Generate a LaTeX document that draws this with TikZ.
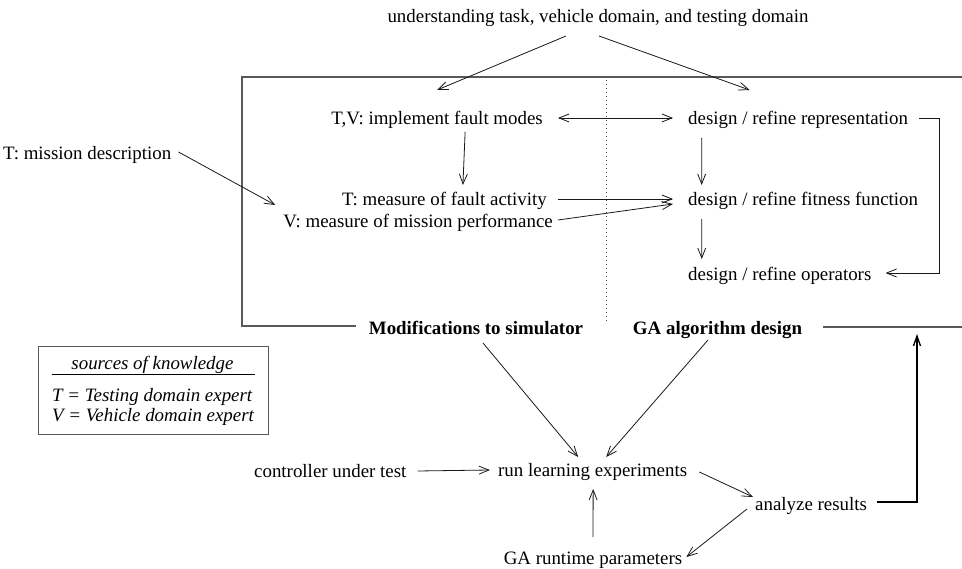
\documentclass[tikz,border=0pt]{standalone}
\usepackage{fontspec}
\setmainfont{Liberation Serif}
\usetikzlibrary{arrows.meta,calc}
\begin{document}
\begin{tikzpicture}[x=1pt,y=-1pt,
  every node/.style={inner sep=0pt, font=\fontsize{18.9}{22}\selectfont,
    execute at begin node={\lower4pt\hbox\bgroup}, execute at end node={\egroup}},
  boldlbl/.style={font=\fontsize{18.9}{22}\selectfont\bfseries},
  itlbl/.style={font=\fontsize{18.9}{22}\selectfont\itshape},
  conn/.style={draw=black!90, line width=0.8pt, -{Straight Barb[length=10pt,width=8pt]}},
  twoway/.style={draw=black!90, line width=0.8pt, {Straight Barb[length=10pt,width=8pt]}-{Straight Barb[length=10pt,width=8pt]}},
  feedback/.style={draw=black, line width=1.3pt, -{Straight Barb[length=10pt,width=7pt]}},
  framestroke/.style={draw=black!65, line width=1.2pt},
  divider/.style={draw=black!70, line width=0.9pt, dash pattern=on 1pt off 3pt}]
\useasboundingbox (0,0) rectangle (962,569);

% labels
\node (top) at (598,16) [anchor=mid] {understanding task, vehicle domain, and testing domain};
\node (tvfault) at (543,118) [anchor=mid east] {T,V: implement fault modes};
\node (rep) at (688,118) [anchor=mid west] {design / refine representation};
\node (tfault) at (547,199) [anchor=mid east] {T: measure of fault activity};
\node (vmission) at (553,221) [anchor=mid east] {V: measure of mission performance};
\node (fit) at (688,199) [anchor=mid west] {design / refine fitness function};
\node (ops) at (688,274) [anchor=mid west] {design / refine operators};
\node (mission) at (3,153) [anchor=mid west] {T: mission description};
\node (mods) at (476,328) [anchor=mid, boldlbl] {Modifications to simulator};
\node (gadesign) at (717.5,328) [anchor=mid, boldlbl] {GA algorithm design};
\node (controller) at (254,471) [anchor=mid west] {controller under test};
\node (run) at (498,470) [anchor=mid west] {run learning experiments};
\node (analyze) at (755,504) [anchor=mid west] {analyze results};
\node (params) at (593,558) [anchor=mid] {GA runtime parameters};

% frame around the design stage
\draw[framestroke] ($(mods.mid west)+(-13,-2)$) -- (242,326) -- (242,77) -- (970,77);
\draw[framestroke] ($(gadesign.mid east)+(21,-1)$) -- (970,327);
\draw[divider] (606,80) -- (606,323);

% legend
\draw[framestroke, line width=1pt] (38,347) rectangle (268,435);
\node (legtitle) at (152.5,363) [anchor=mid, itlbl] {sources of knowledge};
\draw[black, line width=0.9pt] (52,374) -- (255,374);
\node (legT) at (52,395) [anchor=mid west, itlbl] {T = Testing domain expert};
\node (legV) at (52,415) [anchor=mid west, itlbl] {V = Vehicle domain expert};

% connectors
\draw[conn] ($(top.mid)+(-32,20)$) -- ($(tvfault.mid)+(0,-28)$);
\draw[conn] ($(top.mid)+(1,20)$) -- ($(rep.mid)+(-48.5,-28)$);
\draw[twoway] ($(tvfault.mid east)+(15,0)$) -- ($(rep.mid west)+(-15,0)$);
\draw[conn] ($(tvfault.mid)+(28,14)$) -- ($(tfault.mid)+(18.5,-14)$);
\draw[conn] ($(rep.mid)+(-96.5,20)$) -- ($(fit.mid)+(-101.5,-14)$);
\draw[conn] ($(fit.mid)+(-101.5,20)$) -- ($(ops.mid)+(-78,-15)$);
\draw[conn] ($(rep.mid east)+(11,0)$) -- ++(20,0) |- ($(ops.mid east)+(14,-1)$);
\draw[conn] ($(tfault.mid east)+(11,0)$) -- ($(fit.mid west)+(-15,0)$);
\draw[conn] ($(vmission.mid east)+(5,-1)$) -- ($(fit.mid west)+(-15,5)$);
\draw[conn] ($(mission.mid east)+(7,-1)$) -- ($(vmission.mid west)+(-8,-16)$);
\draw[conn] ($(mods.mid)+(7,15)$) -- ($(run.mid)+(-14.5,-13)$);
\draw[conn] ($(gadesign.mid)+(-9.5,12)$) -- ($(run.mid)+(13.5,-13)$);
\draw[conn] ($(controller.mid east)+(11,0)$) -- ($(run.mid west)+(-8,0)$);
\draw[conn] ($(params.mid)+(0,-21)$) -- ($(run.mid)+(0.5,19)$);
\draw[conn] ($(run.mid east)+(12,2)$) -- ($(analyze.mid west)+(-2,-7)$);
\draw[conn] ($(analyze.mid west)+(-8,5)$) -- ($(params.mid east)+(4,-1)$);
\draw[feedback] ($(analyze.mid east)+(10,-2)$) -| ($(gadesign.mid)+(199.5,6)$);
\end{tikzpicture}
\end{document}
